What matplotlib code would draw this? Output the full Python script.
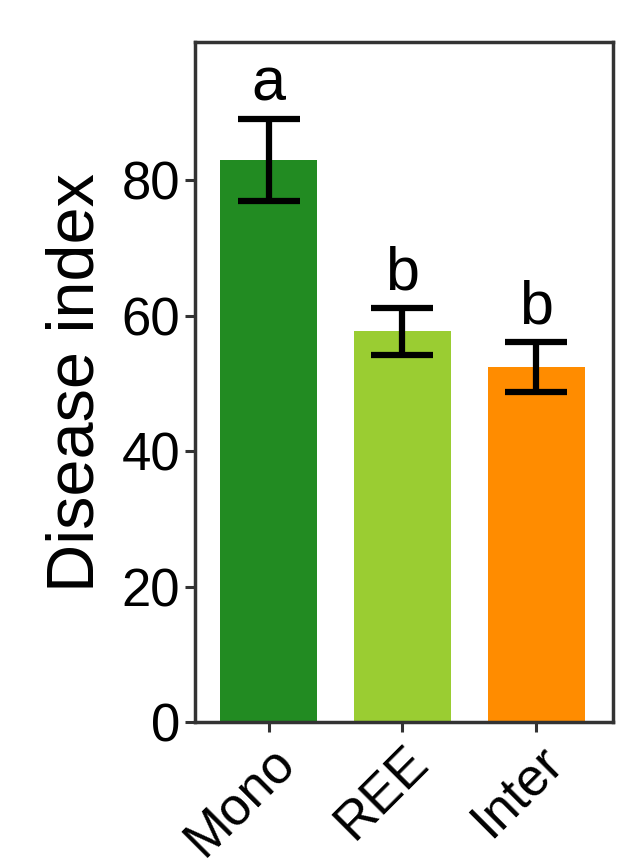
import matplotlib.pyplot as plt

groups = ["Mono", "REE", "Inter"]
means = [83.0, 57.7, 52.4]
errs = [6.0, 3.5, 3.7]
letters = ["a", "b", "b"]
colors = ["#228B22", "#9ACD32", "#FF8C00"]

plt.rcParams['font.family'] = ['Liberation Sans', 'DejaVu Sans']

fig = plt.figure(figsize=(6.41, 8.58), dpi=100)
ax = fig.add_axes([0.304, 0.1585, 0.652, 0.7925])

x = range(len(groups))
ax.bar(x, means, width=0.73, color=colors)
ax.errorbar(x, means, yerr=errs, fmt='none', ecolor='black',
            elinewidth=4.5, capsize=22, capthick=4.5)
for i, (m, e, l) in enumerate(zip(means, errs, letters)):
    ax.text(i, m + e + 0.8, l, ha='center', va='bottom', fontsize=44)

ax.set_xlim(-0.55, 2.57)
ax.set_ylim(0, 100.4)
ax.set_yticks([0, 20, 40, 60, 80])
ax.set_xticks(list(x))
ax.set_xticklabels(groups, rotation=45, ha='right', rotation_mode='anchor')
ax.tick_params(labelsize=38, width=2.2, length=7, color='#333333')
ax.set_ylabel("Disease index", fontsize=48, labelpad=10)
for s in ax.spines.values():
    s.set_linewidth(2.5)
    s.set_color('#333333')

fig.savefig("out.png", dpi=100)
